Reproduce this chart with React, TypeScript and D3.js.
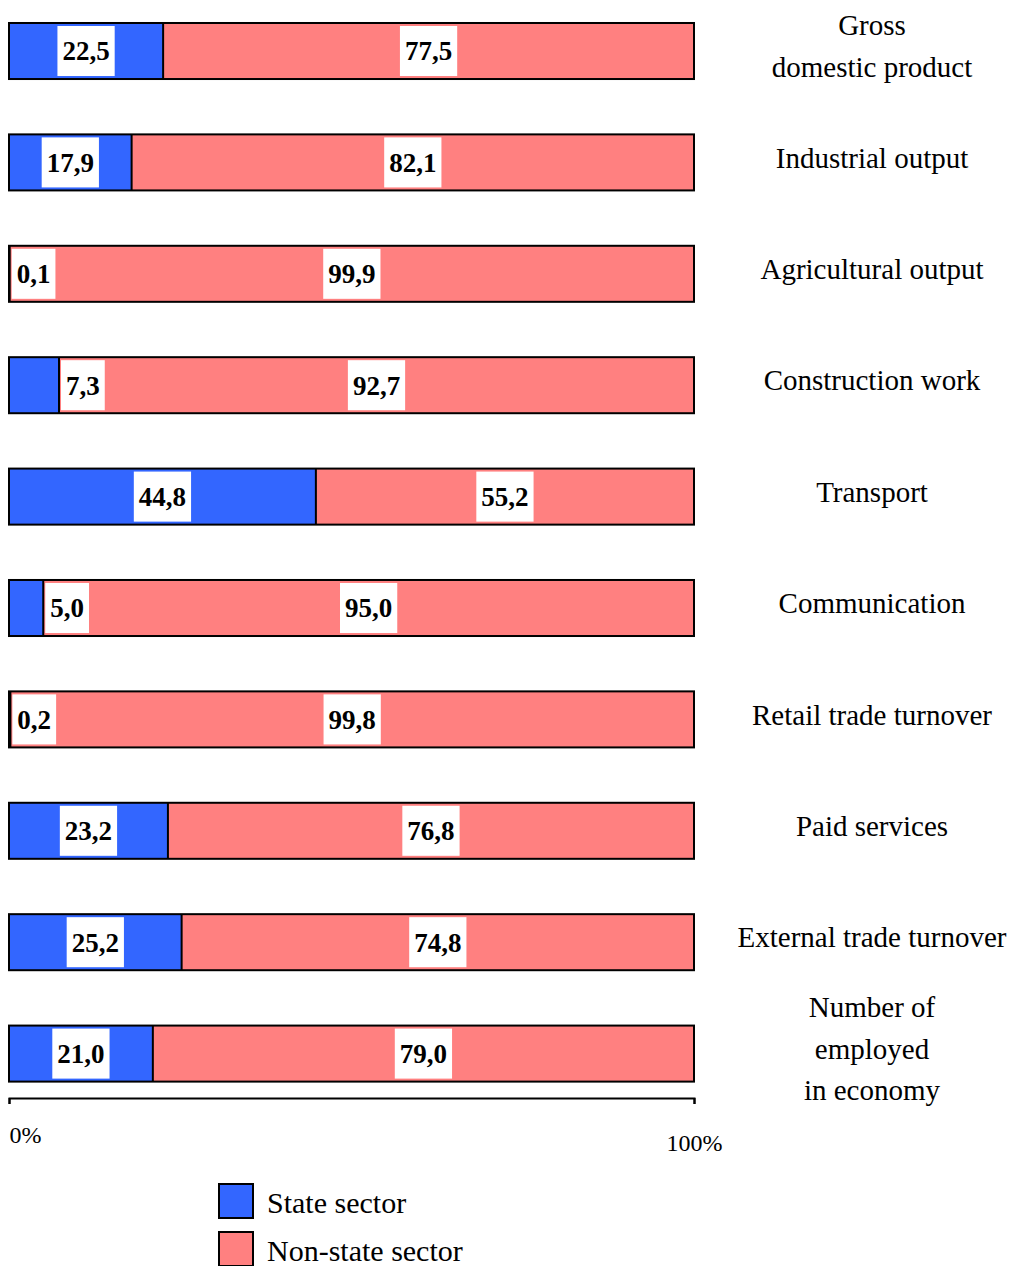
import React, { useEffect, useRef } from 'react';
import * as d3 from 'd3';

const categories = [
  'Gross\ndomestic product',
  'Industrial output',
  'Agricultural output',
  'Construction work',
  'Transport',
  'Communication',
  'Retail trade turnover',
  'Paid services',
  'External trade turnover',
  'Number of\nemployed\nin economy',
];
const stateSector = [22.5, 17.9, 0.1, 7.3, 44.8, 5.0, 0.2, 23.2, 25.2, 21.0];
const nonStateSector = [77.5, 82.1, 99.9, 92.7, 55.2, 95.0, 99.8, 76.8, 74.8, 79.0];
const seriesNames = ['State sector', 'Non-state sector'];
const axisTicks = [0, 100];

const COLORS = ['#3366ff', '#ff8080'];
const FONT = '"Liberation Serif", "Times New Roman", serif';

export default function App() {
  const svgRef = useRef<SVGSVGElement>(null);

  useEffect(() => {
    if (!svgRef.current) return;
    const svg = d3.select(svgRef.current);
    svg.selectAll('*').remove();

    const x = d3.scaleLinear().domain([0, 100]).range([9, 694]);
    const y = d3.scaleBand<string>()
      .domain(categories)
      .range([-4.7, 1109.3])
      .paddingInner(0.497)
      .paddingOuter(0.2486);
    const bh = y.bandwidth();
    const fmt = (v: number) => d3.format('.1f')(v).replace('.', ',');

    const rows = svg.selectAll('g.row')
      .data(categories)
      .enter()
      .append('g')
      .attr('class', 'row')
      .attr('transform', d => `translate(0,${y(d)})`);

    // state segment
    rows.append('rect')
      .attr('x', x(0))
      .attr('y', 0)
      .attr('width', (_, i) => x(stateSector[i]) - x(0))
      .attr('height', bh)
      .attr('fill', COLORS[0]);

    // non-state segment
    rows.append('rect')
      .attr('x', (_, i) => x(stateSector[i]))
      .attr('y', 0)
      .attr('width', (_, i) => x(stateSector[i] + nonStateSector[i]) - x(stateSector[i]))
      .attr('height', bh)
      .attr('fill', COLORS[1]);

    // divider
    rows.append('line')
      .attr('x1', (_, i) => x(stateSector[i]))
      .attr('x2', (_, i) => x(stateSector[i]))
      .attr('y1', 0)
      .attr('y2', bh)
      .attr('stroke', '#000')
      .attr('stroke-width', 2);

    // outline
    rows.append('rect')
      .attr('x', x(0))
      .attr('y', 0)
      .attr('width', (_, i) => x(stateSector[i] + nonStateSector[i]) - x(0))
      .attr('height', bh)
      .attr('fill', 'none')
      .attr('stroke', '#000')
      .attr('stroke-width', 2);

    // value labels in white boxes
    const addLabel = (g: any, value: number, x0: number, x1: number) => {
      const t = g.append('text')
        .attr('y', bh / 2)
        .attr('dy', '0.35em')
        .attr('text-anchor', 'middle')
        .style('font-family', FONT)
        .style('font-weight', 'bold')
        .style('font-size', '27px')
        .text(fmt(value));
      const w = (t.node() as SVGTextElement).getComputedTextLength();
      const boxW = w + 10;
      let cx = (x0 + x1) / 2;
      if (x1 - x0 < boxW + 20) cx = x1 + 2 + boxW / 2;
      t.attr('x', cx);
      g.insert('rect', 'text')
        .attr('x', cx - boxW / 2)
        .attr('y', 3)
        .attr('width', boxW)
        .attr('height', bh - 6)
        .attr('fill', '#fff');
    };

    rows.each(function (_, i) {
      const g = d3.select(this);
      addLabel(g, stateSector[i], x(0), x(stateSector[i]));
      addLabel(g, nonStateSector[i], x(stateSector[i]), x(stateSector[i] + nonStateSector[i]));
    });

    // category labels
    rows.append('text')
      .attr('text-anchor', 'middle')
      .style('font-family', FONT)
      .style('font-size', '29px')
      .each(function (d) {
        const lines = d.split('\n');
        const lh = 41.5;
        const start = bh / 2 - 5 - ((lines.length - 1) * lh) / 2;
        d3.select(this).selectAll('tspan')
          .data(lines)
          .enter()
          .append('tspan')
          .attr('x', 872)
          .attr('y', (_, j) => start + j * lh)
          .attr('dy', '0.35em')
          .text(l => l);
      });

    // axis
    const axis = svg.append('g')
      .attr('transform', 'translate(0,1098)')
      .call(d3.axisBottom(x).tickValues(axisTicks).tickSizeInner(6).tickSizeOuter(6).tickFormat(d => `${d}%`));
    axis.select('.domain').attr('stroke-width', 2);
    axis.selectAll('.tick line').attr('stroke-width', 2);
    axis.selectAll('.tick text')
      .style('font-family', FONT)
      .style('font-size', '24px')
      .attr('fill', '#000')
      .attr('y', (d: any) => (d === 0 ? 28 : 36))
      .attr('text-anchor', (d: any) => (d === 0 ? 'start' : 'middle'));

    // legend
    const legend = svg.append('g')
      .selectAll('g')
      .data(seriesNames)
      .enter()
      .append('g')
      .attr('transform', (_, i) => `translate(219,${1184 + i * 48})`);
    legend.append('rect')
      .attr('width', 34)
      .attr('height', 34)
      .attr('fill', (_, i) => COLORS[i])
      .attr('stroke', '#000')
      .attr('stroke-width', 2);
    legend.append('text')
      .attr('x', 48)
      .attr('y', 18)
      .attr('dy', '0.35em')
      .style('font-family', FONT)
      .style('font-size', '30px')
      .text(d => d);
  }, []);

  return (
    <div style={{ position: 'absolute', left: 0, top: 0 }}>
      <svg ref={svgRef} width={1033} height={1266} style={{ display: 'block', background: '#fff' }} />
    </div>
  );
}
